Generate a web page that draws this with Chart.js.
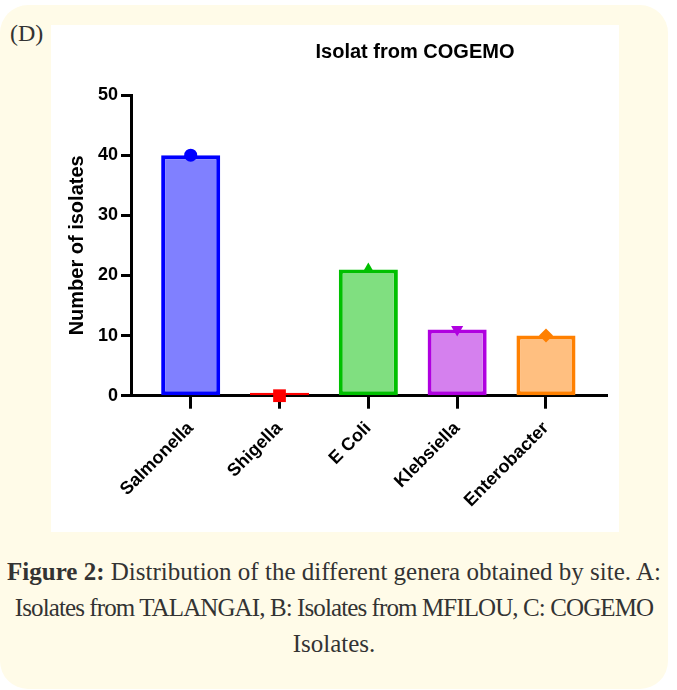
<!DOCTYPE html>
<html>
<head>
<meta charset="utf-8">
<script src="https://cdn.jsdelivr.net/npm/chart.js@4.4.1/dist/chart.umd.min.js"></script>
<style>
  body { margin: 0; width: 677px; height: 690px; background: #fff; position: relative; overflow: hidden; }
  .card { position: absolute; left: 0; top: 5px; width: 668px; height: 684px; background: #fffbe8; border-radius: 28px; }
  .tag { position: absolute; left: 10px; top: 20px; font-family: 'Liberation Serif', serif; font-size: 24px; color: #333; }
  .panel { position: absolute; left: 51px; top: 25px; width: 568px; height: 507px; background: #fff; }
  .title { position: absolute; left: 364px; top: 15px; transform: translateX(-50%); white-space: nowrap;
           font-family: 'Liberation Sans', Arial, sans-serif; font-weight: bold; font-size: 20px; color: #000; }
  .caption { position: absolute; left: 0; top: 554px; width: 668px; text-align: center; white-space: nowrap;
             font-family: 'Liberation Serif', serif; font-size: 25px; line-height: 36px; color: #333; }
  .caption span { display: block; }
  .caption .tight { letter-spacing: -0.9px; }
  canvas { position: absolute; left: 0; top: 0; }
</style>
</head>
<body>
<div class="card"></div>
<div class="tag">(D)</div>
<div class="panel">
  <canvas id="chart" width="568" height="507"></canvas>
  <div class="title">Isolat from COGEMO</div>
</div>
<div class="caption">
  <span><b>Figure 2:</b> Distribution of the different genera obtained by site. A:</span>
  <span class="tight">Isolates from TALANGAI, B: Isolates from MFILOU, C: COGEMO</span>
  <span>Isolates.</span>
</div>

<script>
// values
const categories = ['Salmonella', 'Shigella', 'E Coli', 'Klebsiella', 'Enterobacter'];
const counts = [40, 0, 21, 11, 10];
const yTicks = [0, 10, 20, 30, 40, 50];

// one colour pair per genus (GraphPad style)
const fillColors = ['#8080ff', '#ff0000', '#80df80', '#d580ee', '#ffbf80'];
const edgeColors = ['#0000ff', '#ff0000', '#00c000', '#b000e0', '#ff8000'];
const markerStyles = ['circle', 'rect', 'triangle', 'triangle', 'rectRot'];
const markerTurns = [0, 0, 0, 180, 0];
const markerSizes = [6.5, 9, 7, 7, 7];

const points = categories.map((c, i) => ({ x: i, y: counts[i] }));
const font = 'Liberation Sans, Arial, sans-serif';

new Chart(document.getElementById('chart'), {
  type: 'bar',
  data: {
    datasets: [
      {
        type: 'line',
        data: points,
        showLine: false,
        clip: false,
        order: 0,
        pointStyle: markerStyles,
        pointRotation: markerTurns,
        pointRadius: markerSizes,
        pointBackgroundColor: edgeColors,
        pointBorderWidth: 0
      },
      {
        type: 'bar',
        data: points,
        order: 1,
        backgroundColor: fillColors,
        borderColor: edgeColors,
        borderWidth: 4,
        borderSkipped: false,
        minBarLength: 3,
        categoryPercentage: 1,
        barPercentage: 0.665
      }
    ]
  },
  options: {
    responsive: false,
    animation: false,
    events: [],
    layout: { padding: { top: 70, right: 12, left: 0, bottom: 0 } },
    plugins: { legend: { display: false }, tooltip: { enabled: false } },
    scales: {
      x: {
        type: 'linear',
        min: -0.672,
        max: 4.687,
        offset: false,
        afterFit: s => { s.height = 136.3; },
        afterBuildTicks: s => { s.ticks = categories.map((c, i) => ({ value: i })); },
        border: { color: '#000', width: 3 },
        grid: { offset: false, drawOnChartArea: false, drawTicks: true, tickLength: 13, tickWidth: 3, tickColor: '#000' },
        ticks: {
          autoSkip: false,
          minRotation: 45,
          maxRotation: 45,
          padding: 9,
          color: '#000',
          font: { family: font, size: 18, weight: 'bold' },
          callback: v => categories[v]
        }
      },
      y: {
        min: 0,
        max: 50,
        afterFit: s => { s.width = 80; },
        afterBuildTicks: s => { s.ticks = yTicks.map(v => ({ value: v })); },
        border: { color: '#000', width: 3 },
        grid: { drawOnChartArea: false, drawTicks: true, tickLength: 10, tickWidth: 3, tickColor: '#000' },
        ticks: { padding: 3, color: '#000', font: { family: font, size: 18, weight: 'bold' } },
        title: {
          display: true,
          text: 'Number of isolates',
          color: '#000',
          padding: { top: 14, bottom: 0 },
          font: { family: font, size: 20, weight: 'bold' }
        }
      }
    }
  }
});
</script>
</body>
</html>
